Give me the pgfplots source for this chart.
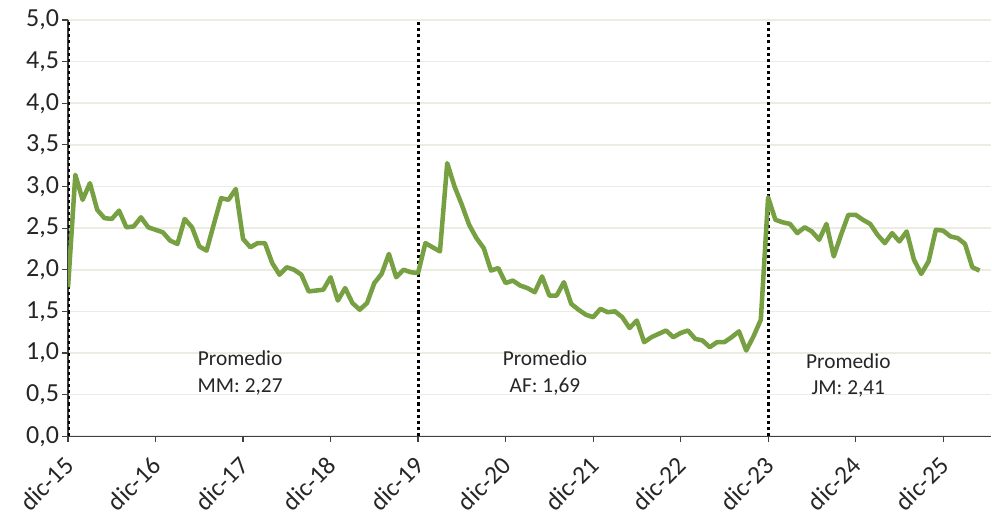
\documentclass[border=0pt]{standalone}
\usepackage{pgfplots}
\usepackage{pgfplotstable}
\usepackage{fontspec}
\setmainfont{Carlito}
\pgfplotsset{compat=1.18}

\definecolor{linegreen}{RGB}{119,160,66}
\definecolor{gridc}{RGB}{236,236,226}
\definecolor{txt}{RGB}{38,38,38}

% monthly values, month 0 = dic-15
\pgfplotstableread{
m v
0 1.79
1 3.14
2 2.84
3 3.04
4 2.72
5 2.62
6 2.61
7 2.71
8 2.51
9 2.52
10 2.63
11 2.51
12 2.48
13 2.45
14 2.35
15 2.31
16 2.61
17 2.51
18 2.28
19 2.23
20 2.55
21 2.86
22 2.84
23 2.97
24 2.37
25 2.27
26 2.32
27 2.32
28 2.08
29 1.94
30 2.03
31 2.00
32 1.94
33 1.74
34 1.75
35 1.76
36 1.91
37 1.63
38 1.78
39 1.60
40 1.52
41 1.60
42 1.84
43 1.95
44 2.19
45 1.91
46 2.00
47 1.97
48 1.96
49 2.32
50 2.27
51 2.22
52 3.28
53 3.00
54 2.78
55 2.54
56 2.38
57 2.26
58 1.99
59 2.02
60 1.84
61 1.87
62 1.81
63 1.78
64 1.73
65 1.92
66 1.69
67 1.69
68 1.85
69 1.59
70 1.52
71 1.46
72 1.43
73 1.53
74 1.49
75 1.50
76 1.43
77 1.30
78 1.39
79 1.13
80 1.19
81 1.23
82 1.27
83 1.19
84 1.24
85 1.27
86 1.17
87 1.15
88 1.07
89 1.13
90 1.13
91 1.19
92 1.26
93 1.03
94 1.20
95 1.40
96 2.87
97 2.60
98 2.57
99 2.55
100 2.44
101 2.51
102 2.46
103 2.36
104 2.55
105 2.16
106 2.42
107 2.66
108 2.66
109 2.60
110 2.55
111 2.42
112 2.32
113 2.44
114 2.34
115 2.46
116 2.12
117 1.95
118 2.10
119 2.48
120 2.47
121 2.40
122 2.38
123 2.31
124 2.03
125 1.99
}\datatable

\begin{document}
\begin{tikzpicture}
\begin{axis}[
    scale only axis,
    width=691.5pt, height=312pt,
    xmin=0, xmax=126.5,
    ymin=0, ymax=5,
    ytick={0,0.5,...,5},
    xtick={0,12,...,120},
    xticklabels={dic-15,dic-16,dic-17,dic-18,dic-19,dic-20,dic-21,dic-22,dic-23,dic-24,dic-25},
    axis lines=left,
    axis line style={-, black!75, line width=0.9pt},
    tick align=outside,
    major tick length=4.5pt,
    tick style={black!75, line width=0.9pt},
    ymajorgrids,
    grid style={gridc, line width=1.2pt},
    ticklabel style={font=\fontsize{19.5}{22}\selectfont, text=txt},
    xticklabel style={font=\fontsize{19}{22}\selectfont, xshift=-4pt, yshift=-8pt, rotate=45, anchor=north east, inner sep=1pt},
    yticklabel style={inner sep=2pt, /pgf/number format/.cd, fixed, fixed zerofill, precision=1, use comma},
    /pgf/number format/assume math mode=true,
    clip=true,
]
\addplot[black, line width=2.3pt, dash pattern=on 2.3pt off 2.3pt] coordinates {(0,0) (0,5)};
\addplot[black, line width=2.3pt, dash pattern=on 2.3pt off 2.3pt] coordinates {(48,0) (48,5)};
\addplot[black, line width=2.3pt, dash pattern=on 2.3pt off 2.3pt] coordinates {(96,0) (96,5)};
\addplot[linegreen, line width=3.4pt, line join=round] table[x=m, y=v] {\datatable};
\node[align=center, text=txt, font=\fontsize{16}{20}\selectfont] at (axis cs:23.6,0.76) {Promedio\\MM: 2,27};
\node[align=center, text=txt, font=\fontsize{16}{20}\selectfont] at (axis cs:65.4,0.76) {Promedio\\AF: 1,69};
\node[align=center, text=txt, font=\fontsize{16}{20}\selectfont] at (axis cs:107,0.73) {Promedio\\JM: 2,41};
\coordinate (bl) at (rel axis cs:0,0);
\coordinate (tr) at (rel axis cs:1,1);
\end{axis}
\pgfresetboundingbox
\path ([xshift=-51pt,yshift=-60.75pt]bl) rectangle ([xshift=1.1pt,yshift=15pt]tr);
\end{tikzpicture}
\end{document}
